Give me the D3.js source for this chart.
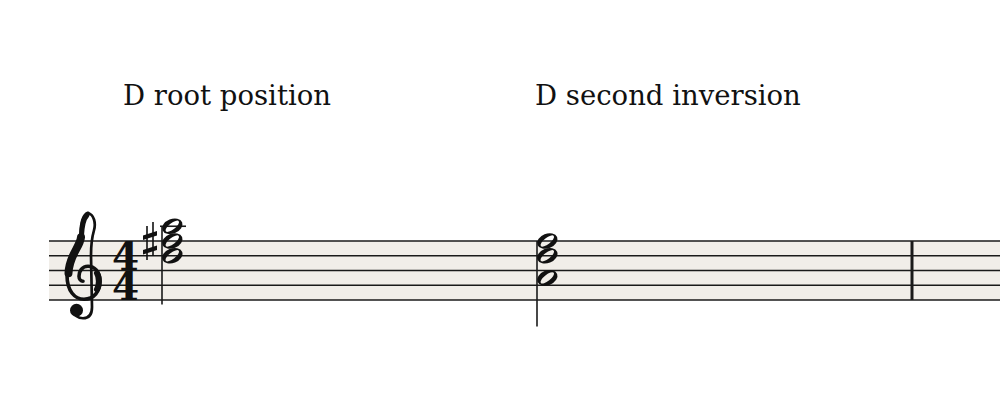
<!DOCTYPE html>
<html>
<head>
<meta charset="utf-8">
<script src="https://cdn.jsdelivr.net/npm/d3@7"></script>
<style>
  html, body { margin: 0; padding: 0; background: #ffffff; }
  svg { display: block; }
</style>
</head>
<body>
<svg id="chart" width="1000" height="402"></svg>
<script>
// ---- data ----
const chordLabels = ["D root position", "D second inversion"];
const chordBeats = [1, 3];                       // beat where each chord sits
const chordNotes = [["D5", "F#5", "A5"], ["A4", "D5", "F#5"]];
const chordAccidentals = [["", "#", ""], ["", "", ""]]; // printed accidentals
const timeSignature = ["4", "4"];
const barlineBeats = [5];

// ---- layout ----
const staffTop = 241, sp = 14.75;
const staffLeft = 49, staffRight = 1000;
const ink = "#1a1a1a";

const svg = d3.select("#chart");

const letterIdx = { C: 0, D: 1, E: 2, F: 3, G: 4, A: 5, B: 6 };
function step(n) {
  const oct = +n.slice(-1);
  return oct * 7 + letterIdx[n[0]];
}
const y = d3.scaleLinear().domain([step("E4"), step("F5")]).range([staffTop + 4 * sp, staffTop]);
const x = d3.scaleLinear().domain([1, 5]).range([162, 912]);

// staff background
svg.append("rect")
  .attr("x", staffLeft).attr("y", staffTop)
  .attr("width", staffRight - staffLeft).attr("height", 4 * sp)
  .attr("fill", "#f1eee9");

// staff lines
const lineSteps = ["E4", "G4", "B4", "D5", "F5"].map(step);
svg.append("g").selectAll("line").data(lineSteps).join("line")
  .attr("x1", staffLeft).attr("x2", staffRight)
  .attr("y1", d => y(d)).attr("y2", d => y(d))
  .attr("stroke", ink).attr("stroke-width", 1.6);

// barlines
svg.append("g").selectAll("line").data(barlineBeats).join("line")
  .attr("x1", d => x(d)).attr("x2", d => x(d))
  .attr("y1", y(step("F5"))).attr("y2", y(step("E4")))
  .attr("stroke", ink).attr("stroke-width", 3);

// treble clef (glyph drawn as path), anchored on G4 line
const clef = svg.append("g")
  .attr("transform", `translate(82,${y(step("G4"))})`)
  .attr("fill", "none").attr("stroke", "#111").attr("stroke-linecap", "round");
// thin line: tip -> right side of loop -> stem -> hook to ball
clef.append("path")
  .attr("d", "M 6,-72 C 12,-71 14,-62 12,-55 C 10,-48 9,-40 9,-30 L 10,22 C 10,30 6,33 1,33 C -4,33 -8,30 -8,26")
  .attr("stroke-width", 2.7);
// main body: tip -> left of loop -> diagonal -> bowl -> inner curl
clef.append("path")
  .attr("d", "M 6,-72 C 1,-70 -1,-60 -1,-50 C -1,-40 -15,-30 -15,-10 C -15,6 -7,14 2,14 C 12,14 18,6 18,-4 C 18,-14 12,-19 6,-19 C 0,-19 -3,-14 -3,-9 C -3,-6 -1,-4 1,-4")
  .attr("stroke-width", 3.6);
// thick parts
clef.append("path")
  .attr("d", "M 5,-70 C 1,-66 0,-58 -0.5,-50")
  .attr("stroke-width", 5);
clef.append("path")
  .attr("d", "M -1,-48 C -2,-38 -13,-30 -13.5,-12")
  .attr("stroke-width", 8);
clef.append("path")
  .attr("d", "M 15,4 C 17.5,0 17.5,-8 15,-12")
  .attr("stroke-width", 6);
clef.append("circle").attr("cx", -5.5).attr("cy", 25).attr("r", 6.5).attr("fill", "#111").attr("stroke", "none");

// time signature (one text block, two stacked digits)
const ts = svg.append("text")
  .attr("text-anchor", "middle")
  .attr("font-family", "DejaVu Serif")
  .attr("font-weight", "bold")
  .attr("font-size", 39)
  .attr("fill", "#111");
ts.selectAll("tspan").data(timeSignature).join("tspan")
  .attr("x", 125.5)
  .attr("y", (d, i) => i === 0 ? y(step("B4")) - 0.5 : y(step("E4")) - 0.5)
  .text(d => d);

// labels
svg.append("g").selectAll("text").data(chordLabels).join("text")
  .attr("x", (d, i) => x(chordBeats[i]) + (i === 0 ? -39 : -2))
  .attr("y", 105)
  .attr("font-family", "DejaVu Serif")
  .attr("font-size", 27.5)
  .attr("fill", "#111")
  .text(d => d);

// notehead path (hollow, half note)
function ellipsePath(a, b, deg) {
  const t = deg * Math.PI / 180, c = Math.cos(t), s = Math.sin(t);
  return `M ${-a * c},${-a * s} A ${a} ${b} ${deg} 1 0 ${a * c},${a * s} A ${a} ${b} ${deg} 1 0 ${-a * c},${-a * s} Z`;
}
const headPath = ellipsePath(10.6, 7.3, -22) + " " + ellipsePath(8.2, 3.1, -38);

const chords = svg.append("g").selectAll("g").data(chordNotes).join("g");
chords.each(function (notes, ci) {
  const g = d3.select(this);
  const sx = x(chordBeats[ci]);
  const steps = notes.map(step);
  const top = d3.max(steps), bottom = d3.min(steps);
  // ledger lines
  const ledgers = d3.range(step("A5"), top + 1, 2);
  g.selectAll("line.ledger").data(ledgers).join("line").attr("class", "ledger")
    .attr("x1", sx - 2).attr("x2", sx + 24)
    .attr("y1", d => y(d)).attr("y2", d => y(d))
    .attr("stroke", ink).attr("stroke-width", 1.6);
  // stem (down, on left)
  g.append("line")
    .attr("x1", sx).attr("x2", sx)
    .attr("y1", y(top)).attr("y2", y(bottom) + 3.3 * sp)
    .attr("stroke", ink).attr("stroke-width", 1.6);
  // heads
  g.selectAll("path.head").data(steps).join("path").attr("class", "head")
    .attr("transform", d => `translate(${sx + 10.3},${y(d)})`)
    .attr("d", headPath)
    .attr("fill", "#111").attr("fill-rule", "evenodd");
  // accidentals
  chordAccidentals[ci].forEach((acc, ni) => {
    if (acc !== "#") return;
    const ay = y(steps[ni]);
    const a = g.append("g").attr("transform", `translate(${sx - 12},${ay})`);
    a.append("line").attr("x1", -3).attr("x2", -3).attr("y1", -15).attr("y2", 19).attr("stroke", "#111").attr("stroke-width", 1.6);
    a.append("line").attr("x1", 3).attr("x2", 3).attr("y1", -19).attr("y2", 15).attr("stroke", "#111").attr("stroke-width", 1.6);
    a.append("polygon").attr("points", "-7,-5.5 7,-10 7,-5.5 -7,-1").attr("fill", "#111");
    a.append("polygon").attr("points", "-7,9 7,4.5 7,9 -7,13.5").attr("fill", "#111");
  });
});
</script>
</body>
</html>
